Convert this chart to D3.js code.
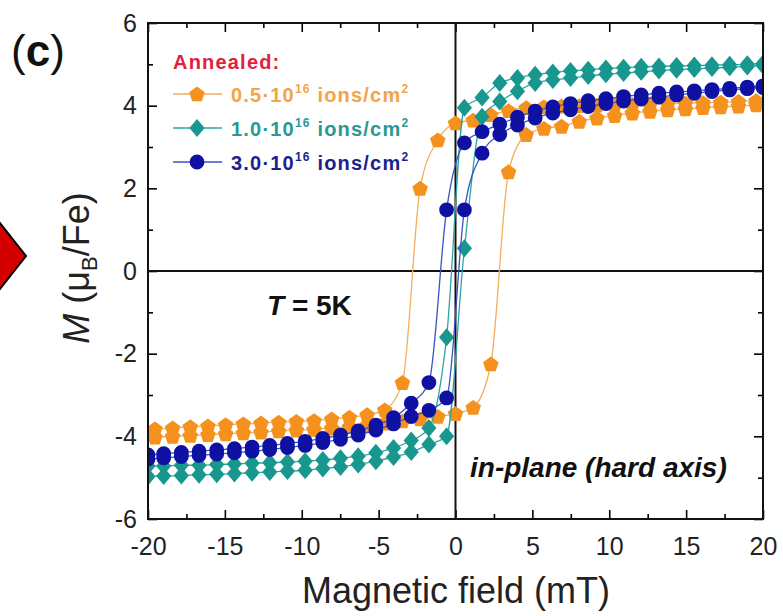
<!DOCTYPE html>
<html>
<head>
<meta charset="utf-8">
<script src="https://cdn.jsdelivr.net/npm/d3@7"></script>
<style>
  body { margin: 0; background: #fff; }
  text { font-family: "Liberation Sans", Arial, Helvetica, sans-serif; }
</style>
</head>
<body>
<svg id="chart" width="783" height="616"></svg>
<script>
// Applied field (mT) at which each sample was measured
const fieldA = [-19.55, -18.4, -17.25, -16.1, -14.95, -13.8, -12.65, -11.5, -10.35, -9.2, -8.05, -6.9,
  -5.75, -4.6, -3.45, -2.3, -1.15, 0, 1.15, 2.3, 3.45, 4.6, 5.75, 6.9, 8.05, 9.2, 10.35, 11.5,
  12.65, 13.8, 14.95, 16.1, 17.25, 18.4, 19.55];
const fieldB = [-20, -18.98, -17.83, -16.68, -15.53, -14.38, -13.23, -12.08, -10.93, -9.78, -8.63, -7.48,
  -6.33, -5.18, -4.03, -2.88, -1.73, -0.58, 0.58, 1.73, 2.88, 4.03, 5.18, 6.33, 7.48, 8.63, 9.78,
  10.93, 12.08, 13.23, 14.38, 15.53, 16.68, 17.83, 18.98, 20];

// Magnetisation (muB/Fe): "Down" = branch swept from +20 mT, "Up" = branch swept from -20 mT
const orangeDown = [-3.82, -3.8, -3.77, -3.75, -3.72, -3.7, -3.68, -3.66, -3.64, -3.62, -3.58, -3.54,
  -3.48, -3.36, -2.7, 2.0, 3.17, 3.58, 3.65, 3.78, 3.88, 3.95, 3.97, 3.99, 4.0, 4.01, 4.02, 4.03,
  4.04, 4.05, 4.06, 4.07, 4.08, 4.1, 4.12];
const orangeUp = [-4.02, -4.0, -3.98, -3.96, -3.94, -3.92, -3.9, -3.87, -3.85, -3.83, -3.8, -3.77,
  -3.73, -3.68, -3.63, -3.58, -3.52, -3.45, -3.3, -2.25, 2.4, 3.3, 3.45, 3.5, 3.62, 3.7, 3.76, 3.82,
  3.86, 3.9, 3.92, 3.95, 3.97, 3.99, 4.02];

const tealDown = [-4.72, -4.72, -4.7, -4.7, -4.68, -4.67, -4.65, -4.64, -4.62, -4.6, -4.57, -4.53,
  -4.48, -4.4, -4.28, -4.1, -3.8, -1.6, 3.95, 4.2, 4.55, 4.67, 4.75, 4.8, 4.84, 4.87, 4.9, 4.92,
  4.94, 4.95, 4.96, 4.97, 4.98, 4.99, 5.0, 5.02];
const tealUp = [-4.97, -4.96, -4.95, -4.93, -4.92, -4.9, -4.88, -4.86, -4.84, -4.82, -4.78, -4.74,
  -4.68, -4.6, -4.5, -4.38, -4.2, -4.0, 0.55, 3.73, 4.1, 4.35, 4.55, 4.62, 4.67, 4.72, 4.76, 4.79,
  4.82, 4.85, 4.87, 4.89, 4.91, 4.93, 4.95, 4.97];

const blueDown = [-4.45, -4.42, -4.39, -4.36, -4.33, -4.3, -4.26, -4.22, -4.17, -4.12, -4.05, -3.97,
  -3.87, -3.73, -3.55, -3.2, -2.7, 1.48, 3.1, 3.37, 3.55, 3.72, 3.87, 3.97, 4.05, 4.12, 4.17, 4.22,
  4.26, 4.3, 4.33, 4.36, 4.39, 4.42, 4.45, 4.48];
const blueUp = [-4.55, -4.52, -4.49, -4.46, -4.43, -4.4, -4.36, -4.32, -4.27, -4.22, -4.15, -4.07,
  -3.97, -3.85, -3.7, -3.52, -3.37, -3.07, 1.48, 2.85, 3.3, 3.53, 3.7, 3.82, 3.9, 3.98, 4.05, 4.11,
  4.16, 4.21, 4.26, 4.3, 4.34, 4.38, 4.41, 4.44];

const doseLabels = ["0.5\u00B710", "1.0\u00B710", "3.0\u00B710"];
const xMajor = [-20, -15, -10, -5, 0, 5, 10, 15, 20];
const xMinor = [-17.5, -12.5, -7.5, -2.5, 2.5, 7.5, 12.5, 17.5];
const yMajor = [-6, -4, -2, 0, 2, 4, 6];
const yMinor = [-5, -3, -1, 1, 3, 5];

const svg = d3.select("#chart");
const plotL = 148, plotR = 763, plotT = 23, plotB = 519;
const x = d3.scaleLinear().domain([-20, 20]).range([plotL, plotR]);
const y = d3.scaleLinear().domain([-6, 6]).range([plotB, plotT]);
const plainNumber = d => String(d);   // hyphen-minus, as printed on the axes

// red pointer shape at the left margin
svg.append("path")
  .attr("d", "M-4,218L26,256L-4,294Z")
  .attr("fill", "#d40000").attr("stroke", "#000").attr("stroke-width", 2);

// panel letter
svg.append("text").attr("x", 11).attr("y", 66).attr("font-size", 44).attr("fill", "#111")
  .call(t => {
    t.append("tspan").text("(");
    t.append("tspan").attr("font-weight", "bold").text("c");
    t.append("tspan").text(")");
  });

// clip region for the data
svg.append("clipPath").attr("id", "plotClip")
  .append("rect").attr("x", plotL).attr("y", plotT)
  .attr("width", plotR - plotL).attr("height", plotB - plotT);

// axes with inward ticks
function styleAxis(g) {
  g.select(".domain").remove();
  g.selectAll(".tick line").attr("stroke", "#000").attr("stroke-width", 1.6);
  g.selectAll(".tick text").attr("fill", "#222").attr("font-size", 25)
    .attr("font-family", "'Liberation Sans', Arial, sans-serif");
}
svg.append("g").attr("transform", `translate(0,${plotB})`)
  .call(d3.axisBottom(x).tickValues(xMajor).tickSize(-9).tickPadding(18).tickFormat(plainNumber))
  .call(styleAxis);
svg.append("g").attr("transform", `translate(0,${plotB})`)
  .call(d3.axisBottom(x).tickValues(xMinor).tickSize(-5).tickFormat(""))
  .call(styleAxis);
svg.append("g").attr("transform", `translate(0,${plotT})`)
  .call(d3.axisTop(x).tickValues(xMajor).tickSize(-9).tickFormat(""))
  .call(styleAxis);
svg.append("g").attr("transform", `translate(0,${plotT})`)
  .call(d3.axisTop(x).tickValues(xMinor).tickSize(-5).tickFormat(""))
  .call(styleAxis);
svg.append("g").attr("transform", `translate(${plotL},0)`)
  .call(d3.axisLeft(y).tickValues(yMajor).tickSize(-9).tickPadding(11).tickFormat(plainNumber))
  .call(styleAxis);
svg.append("g").attr("transform", `translate(${plotL},0)`)
  .call(d3.axisLeft(y).tickValues(yMinor).tickSize(-5).tickFormat(""))
  .call(styleAxis);
svg.append("g").attr("transform", `translate(${plotR},0)`)
  .call(d3.axisRight(y).tickValues(yMajor).tickSize(-9).tickFormat(""))
  .call(styleAxis);
svg.append("g").attr("transform", `translate(${plotR},0)`)
  .call(d3.axisRight(y).tickValues(yMinor).tickSize(-5).tickFormat(""))
  .call(styleAxis);

// zero lines
svg.append("line").attr("x1", plotL).attr("x2", plotR).attr("y1", y(0)).attr("y2", y(0))
  .attr("stroke", "#111").attr("stroke-width", 2);
svg.append("line").attr("x1", x(0)).attr("x2", x(0)).attr("y1", plotT).attr("y2", plotB)
  .attr("stroke", "#111").attr("stroke-width", 2);

// marker shapes
const pentagon = (() => {
  const r = 8.2;
  return "M" + d3.range(5).map(k => {
    const a = -Math.PI / 2 + k * 2 * Math.PI / 5;
    return [r * Math.cos(a), r * Math.sin(a) + 0.7].map(v => v.toFixed(2)).join(",");
  }).join("L") + "Z";
})();
const diamond = "M0,-9L7.6,0L0,9L-7.6,0Z";
const circle = "M7.4,0A7.4,7.4 0 1,1 -7.4,0A7.4,7.4 0 1,1 7.4,0Z";

const series = [
  { field: fieldA, down: orangeDown, up: orangeUp, fill: "#f5921e", line: "#f3ad5e", text: "#f3a446", shape: pentagon },
  { field: fieldB, down: tealDown, up: tealUp, fill: "#17978d", line: "#2aa6a2", text: "#2c9895", shape: diamond },
  { field: fieldB, down: blueDown, up: blueUp, fill: "#0f11a3", line: "#3b52c4", text: "#1d1f8e", shape: circle }
];

const plot = svg.append("g").attr("clip-path", "url(#plotClip)");
const lineGen = d3.line().x(d => x(d[0])).y(d => y(d[1])).curve(d3.curveMonotoneX);

series.forEach(s => {
  const g = plot.append("g");
  [s.down, s.up].forEach(vals => {
    const pts = s.field.map((h, i) => [h, vals[i]]);
    g.append("path").datum(pts).attr("d", lineGen)
      .attr("fill", "none").attr("stroke", s.line).attr("stroke-width", 1.3);
  });
  [s.down, s.up].forEach(vals => {
    const pts = s.field.map((h, i) => [h, vals[i]]);
    g.selectAll(null).data(pts).join("path")
      .attr("d", s.shape)
      .attr("transform", d => `translate(${x(d[0])},${y(d[1])})`)
      .attr("fill", s.fill);
  });
});

// frame
svg.append("rect").attr("x", plotL).attr("y", plotT)
  .attr("width", plotR - plotL).attr("height", plotB - plotT)
  .attr("fill", "none").attr("stroke", "#111").attr("stroke-width", 2);

// legend
const legend = svg.append("g");
legend.append("text").attr("x", 173).attr("y", 69).attr("font-size", 20)
  .attr("font-weight", "bold").attr("fill", "#e0203c").attr("letter-spacing", 1.2)
  .text("Annealed:");
series.forEach((s, i) => {
  const cy = 94 + i * 34;
  legend.append("line").attr("x1", 173).attr("x2", 222).attr("y1", cy).attr("y2", cy)
    .attr("stroke", s.line).attr("stroke-width", 1.6);
  legend.append("path").attr("d", s.shape).attr("transform", `translate(197,${cy})`)
    .attr("fill", s.fill);
  const t = legend.append("text").attr("x", 231).attr("y", cy + 7.5)
    .attr("font-size", 20).attr("font-weight", "bold").attr("fill", s.text)
    .attr("letter-spacing", 1.2);
  t.append("tspan").text(doseLabels[i]);
  t.append("tspan").attr("font-size", 12).attr("dy", -9).text("16");
  t.append("tspan").attr("dy", 9).text(" ions/cm");
  t.append("tspan").attr("font-size", 12).attr("dy", -9).text("2");
});

// annotations
svg.append("text").attr("x", 267).attr("y", 315).attr("font-size", 28)
  .attr("font-weight", "bold").attr("fill", "#111")
  .call(t => {
    t.append("tspan").attr("font-style", "italic").text("T");
    t.append("tspan").text(" = 5K");
  });
svg.append("text").attr("x", 470).attr("y", 477).attr("font-size", 28)
  .attr("font-weight", "bold").attr("font-style", "italic").attr("fill", "#111")
  .text("in-plane (hard axis)");

// axis titles
svg.append("text").attr("x", 456).attr("y", 603).attr("text-anchor", "middle")
  .attr("font-size", 36).attr("fill", "#222").text("Magnetic field (mT)");
svg.append("text").attr("transform", "translate(89,268) rotate(-90)")
  .attr("text-anchor", "middle").attr("font-size", 36).attr("fill", "#222")
  .call(t => {
    t.append("tspan").attr("font-style", "italic").text("M");
    t.append("tspan").text(" (\u03BC");
    t.append("tspan").attr("font-size", 22).attr("dy", 8).text("B");
    t.append("tspan").attr("dy", -8).text("/Fe)");
  });
</script>
</body>
</html>
